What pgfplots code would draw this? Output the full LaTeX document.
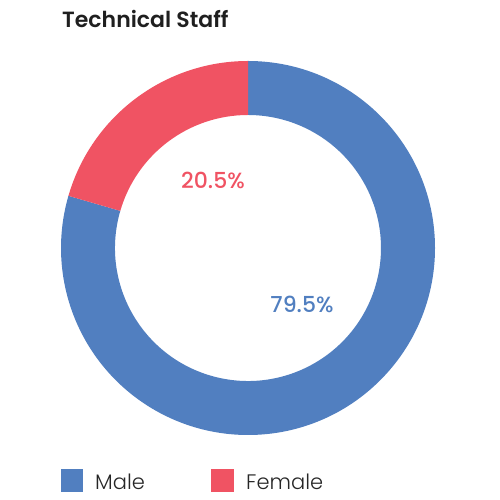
\documentclass[border=0pt]{standalone}
\usepackage{fontspec}
\setmainfont{Poppins}
\newfontfamily\poplight{Poppins Light}
\newfontfamily\popmed{Poppins Medium}
\newfontfamily\popsemi{Poppins SemiBold}
\usepackage{pgfplots}
\usepackage{pgfplotstable}
\pgfplotsset{compat=1.18}
\usetikzlibrary{calc}

\definecolor{male}{HTML}{517FC0}
\definecolor{female}{HTML}{F05363}

% share of technical staff, percent
\pgfplotstableread{
group share
Male 79.5
Female 20.5
}\staff

\begin{document}
\begin{tikzpicture}
\begin{axis}[
    scale only axis,
    width=500pt, height=500pt,
    xmin=0, xmax=500, ymin=0, ymax=500,
    hide axis, clip=false,
]
% keep the whole 500x500 frame as the page
\path (axis cs:0,0) rectangle (axis cs:500,500);
\pgfplotstablegetelem{0}{share}\of\staff \let\male\pgfplotsretval
\pgfplotstablegetelem{1}{share}\of\staff \let\female\pgfplotsretval
\pgfmathsetmacro\mend{90-3.6*\male}
\coordinate (c) at (axis cs:248,252);
% donut: male clockwise from the top, female the rest
\fill[male] ($(c)+(90:187pt)$) arc[start angle=90, end angle=\mend, radius=187pt]
    -- ($(c)+(\mend:133pt)$) arc[start angle=\mend, end angle=90, radius=133pt] -- cycle;
\fill[female] ($(c)+(\mend:187pt)$) arc[start angle=\mend, end angle=-270, radius=187pt]
    -- ($(c)+(-270:133pt)$) arc[start angle=-270, end angle=\mend, radius=133pt] -- cycle;

\node[text=female, font=\popmed\fontsize{22}{22}\selectfont] at (axis cs:213,319.5) {\female\%};
\node[text=male, font=\popmed\fontsize{22}{22}\selectfont] at (axis cs:302,196) {\male\%};

\node[anchor=base west, inner sep=0pt, text=black!88, font=\popsemi\fontsize{22}{22}\selectfont]
    at (axis cs:62,472.3) {Technical Staff};

% legend
\fill[male] (axis cs:61,8) rectangle (axis cs:83,31);
\node[anchor=base west, inner sep=0pt, text=black!85, font=\poplight\fontsize{21}{21}\selectfont]
    at (axis cs:95,10) {Male};
\fill[female] (axis cs:211,8) rectangle (axis cs:234,31);
\node[anchor=base west, inner sep=0pt, text=black!85, font=\poplight\fontsize{21}{21}\selectfont]
    at (axis cs:246,10) {Female};
\end{axis}
\end{tikzpicture}
\end{document}
